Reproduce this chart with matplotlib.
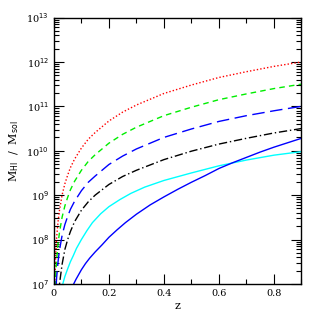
import numpy as np
import matplotlib
matplotlib.use('Agg')
from matplotlib import pyplot as plt
from matplotlib.ticker import MultipleLocator, LogLocator, NullFormatter, FixedLocator

# redshift grids and log10 of the HI mass limit
z_top = [0.003, 0.005, 0.0075, 0.01, 0.015, 0.02, 0.03, 0.04, 0.05, 0.06, 0.075, 0.1,
         0.125, 0.15, 0.2, 0.25, 0.3, 0.4, 0.5, 0.6, 0.7, 0.8, 0.9]
logm_red = [7.0, 7.44, 7.80, 8.05, 8.40, 8.65, 9.01, 9.26, 9.45, 9.62, 9.81, 10.06,
            10.26, 10.41, 10.67, 10.87, 11.03, 11.29, 11.48, 11.65, 11.78, 11.90, 12.0]
logm_green = [6.5, 6.94, 7.30, 7.55, 7.90, 8.15, 8.51, 8.76, 8.95, 9.12, 9.31, 9.56,
              9.76, 9.91, 10.17, 10.37, 10.53, 10.79, 10.98, 11.15, 11.28, 11.40, 11.5]
logm_blue_dash = [6.1, 6.55, 6.9, 7.15, 7.5, 7.75, 8.1, 8.34, 8.52, 8.68, 8.86, 9.1,
                  9.29, 9.43, 9.69, 9.88, 10.04, 10.3, 10.49, 10.66, 10.79, 10.9, 11.0]

z_black = [0.015, 0.02, 0.025, 0.03, 0.04, 0.05, 0.06, 0.075, 0.1, 0.125, 0.15, 0.2,
           0.25, 0.3, 0.4, 0.5, 0.6, 0.7, 0.8, 0.9]
logm_black = [6.75, 6.98, 7.22, 7.45, 7.78, 8.0, 8.18, 8.4, 8.66, 8.85, 9.0, 9.24,
              9.42, 9.56, 9.8, 9.99, 10.15, 10.28, 10.4, 10.5]

z_cyan = [0.03, 0.04, 0.05, 0.06, 0.07, 0.082, 0.1, 0.12, 0.14, 0.17, 0.2, 0.24,
          0.28, 0.33, 0.4, 0.5, 0.6, 0.7, 0.8, 0.9]
logm_cyan = [6.95, 7.17, 7.34, 7.5, 7.63, 7.8, 8.0, 8.2, 8.38, 8.58, 8.74, 8.9,
             9.04, 9.18, 9.33, 9.5, 9.66, 9.79, 9.9, 9.98]

z_blue = [0.072, 0.08, 0.09, 0.1, 0.115, 0.13, 0.15, 0.175, 0.2, 0.23, 0.26, 0.3,
          0.35, 0.4, 0.45, 0.5, 0.55, 0.6, 0.65, 0.7, 0.75, 0.8, 0.85, 0.9]
logm_blue = [7.0, 7.1, 7.21, 7.32, 7.46, 7.58, 7.72, 7.88, 8.05, 8.22, 8.38, 8.57,
             8.78, 8.96, 9.13, 9.29, 9.44, 9.6, 9.73, 9.85, 9.97, 10.08, 10.18, 10.28]

series = [
    (z_top, logm_red, 'red', (0, (1, 1.5))),
    (z_top, logm_green, '#00ee00', (0, (4, 3))),
    (z_top, logm_blue_dash, 'blue', (0, (9, 4))),
    (z_black, logm_black, 'black', (0, (6, 2, 1, 2))),
    (z_cyan, logm_cyan, 'cyan', '-'),
    (z_blue, logm_blue, 'blue', '-'),
]

x_ticks = [0, 0.2, 0.4, 0.6, 0.8]
x_labels = ['0', '0.2', '0.4', '0.6', '0.8']
y_ticks = [1e7, 1e8, 1e9, 1e10, 1e11, 1e12, 1e13]
y_labels = [r'10$^{%d}$' % k for k in range(7, 14)]

plt.rcParams['font.family'] = 'DejaVu Serif'

fig = plt.figure(figsize=(3.19, 3.19), dpi=100)
ax = fig.add_axes([0.169, 0.110, 0.776, 0.835])

for zz, lm, col, ls in series:
    ax.plot(zz, 10 ** np.array(lm), color=col, linestyle=ls, linewidth=1.0)

ax.set_yscale('log')
ax.set_xlim(0, 0.9)
ax.set_ylim(1e7, 1e13)

ax.xaxis.set_major_locator(FixedLocator(x_ticks))
ax.xaxis.set_minor_locator(MultipleLocator(0.1))
ax.set_xticklabels(x_labels)
ax.yaxis.set_major_locator(FixedLocator(y_ticks))
ax.set_yticklabels(y_labels)
ax.yaxis.set_minor_locator(LogLocator(base=10, subs=np.arange(2, 10), numticks=20))
ax.yaxis.set_minor_formatter(NullFormatter())

ax.tick_params(which='both', direction='in', top=True, right=True, labelsize=7, width=0.8)
ax.tick_params(which='major', length=7)
ax.tick_params(which='minor', length=3.5)
for sp in ax.spines.values():
    sp.set_linewidth(1.0)

ax.set_xlabel('z', fontsize=8, labelpad=2)
ax.set_ylabel(r'M$_{\rm HI}$  /  M$_{\rm sol}$', fontsize=8, labelpad=4)

fig.savefig('out.png', dpi=100)
